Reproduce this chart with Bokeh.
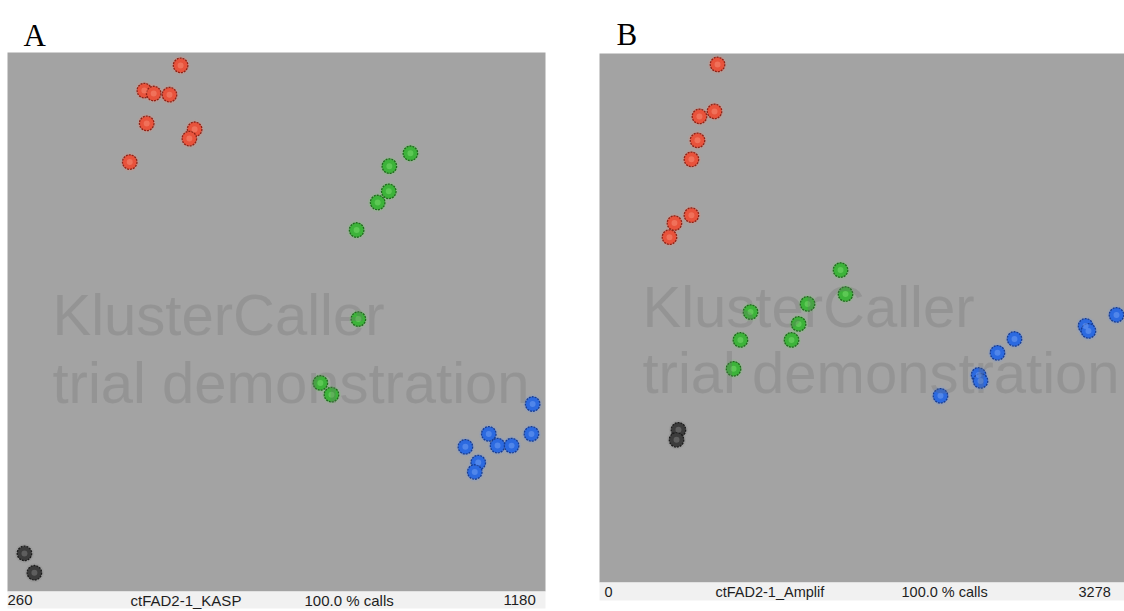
from bokeh.plotting import figure
from bokeh.models import ColumnDataSource, Label, Range1d, BoxAnnotation
from bokeh.layouts import row
from bokeh.embed import file_html
from bokeh.resources import INLINE

# ---------------- Panel A : ctFAD2-1_KASP (x axis 260 - 1180) ----------------
a_x_range = [260, 1180]
a_y_range = [260, 1180]
a_red_x = [556, 494, 510, 537, 498, 580, 571, 469]
a_red_y = [1158, 1115, 1110, 1108, 1059, 1049, 1033, 993]
a_green_x = [949, 913, 912, 893, 857, 860, 795, 814]
a_green_y = [1008, 986, 943, 924, 877, 725, 616, 596]
a_blue_x = [1158, 1156, 1083, 1098, 1122, 1043, 1065, 1059]
a_blue_y = [580, 529, 529, 509, 509, 507, 480, 464]
a_black_x = [289, 306]
a_black_y = [325, 292]
a_footer = ["260", "ctFAD2-1_KASP", "100.0 % calls", "1180"]

# ---------------- Panel B : ctFAD2-1_Amplif (x axis 0 - 3278) ----------------
b_x_range = [0, 3278]
b_y_range = [0, 3278]
b_red_x = [737, 718, 624, 612, 574, 574, 468, 437]
b_red_y = [3210, 2919, 2888, 2740, 2622, 2276, 2227, 2140]
b_green_x = [1505, 1536, 1299, 1243, 943, 1199, 880, 837]
b_green_y = [1936, 1787, 1726, 1602, 1676, 1503, 1503, 1324]
b_blue_x = [2129, 2367, 2379, 2485, 2591, 3035, 3053, 3228]
b_blue_y = [1157, 1286, 1249, 1423, 1509, 1590, 1559, 1658]
b_black_x = [493, 481]
b_black_y = [946, 884]
b_footer = ["0", "ctFAD2-1_Amplif", "100.0 % calls", "3278"]

watermark = ["KlusterCaller", "trial demonstration"]

BG = "#a3a3a3"
STRIP = "#f1f1f1"
STYLES = {
    "red":   dict(fill="#e8533c", line="#8e2216", hi="#f58a72"),
    "green": dict(fill="#3db33a", line="#1f6a1c", hi="#76d86a"),
    "blue":  dict(fill="#2c6ae0", line="#163c93", hi="#6f9cf2"),
    "black": dict(fill="#3c3c3c", line="#1c1c1c", hi="#7a7a7a"),
}

H = 610  # figure height (px)


def add_points(p, xs, ys, style):
    s = STYLES[style]
    src = ColumnDataSource(dict(x=xs, y=ys))
    p.scatter("x", "y", source=src, size=19, fill_color=s["hi"], fill_alpha=0.18,
              line_color=None)
    p.scatter("x", "y", source=src, size=14.5, fill_color=s["fill"],
              line_color=s["line"], line_width=1.3, line_dash="2 1")
    p.scatter("x", "y", source=src, size=6, fill_color=s["hi"], fill_alpha=0.55,
              line_color=None)


def make_panel(letter, xr, yr, groups, footer, width, box, strip_bottom,
               footer_x, footer_size, wm_x, wm_base, letter_x, letter_base):
    """box = (left, top, right, bottom) of the plotting area in figure pixels (y from top)."""
    bl, bt, br, bb = box
    sx = (xr[1] - xr[0]) / (br - bl)
    sy = (yr[1] - yr[0]) / (bb - bt)
    x_range = Range1d(xr[0] - bl * sx, xr[1] + (width - br) * sx)
    y_range = Range1d(yr[0] - (H - bb) * sy, yr[1] + bt * sy)
    p = figure(width=width, height=H, output_backend="svg", toolbar_location=None,
               x_range=x_range, y_range=y_range,
               x_axis_location=None, y_axis_location=None,
               min_border_left=0, min_border_right=0,
               min_border_top=0, min_border_bottom=0)
    p.grid.visible = False
    p.outline_line_color = None
    p.background_fill_color = "white"
    p.border_fill_color = "white"
    # plotting area (grey) spans the data range
    p.add_layout(BoxAnnotation(left=xr[0], right=xr[1], bottom=yr[0], top=yr[1],
                               fill_color=BG, fill_alpha=1.0, line_color=None,
                               level="underlay"))
    # footer strip
    p.add_layout(BoxAnnotation(left=xr[0], right=xr[1],
                               top=H - bb, bottom=H - strip_bottom,
                               top_units="screen", bottom_units="screen",
                               fill_color=STRIP, fill_alpha=1.0, line_color=None,
                               level="underlay"))
    for (xs, ys, style) in groups:
        add_points(p, xs, ys, style)
    # watermark
    for txt, base in zip(watermark, wm_base):
        p.add_layout(Label(x=wm_x, y=H - base, x_units="screen", y_units="screen", text=txt,
                           text_font="Liberation Sans", text_font_size="58px",
                           text_color="#6e6e6e", text_alpha=0.26,
                           text_baseline="alphabetic"))
    # footer strip texts
    fy = H - (bb + strip_bottom) / 2
    for txt, fx in zip(footer, footer_x):
        p.add_layout(Label(x=fx, y=fy, x_units="screen", y_units="screen", text=txt,
                           text_font="Liberation Sans", text_font_size=footer_size,
                           text_color="#1e1e1e", text_baseline="middle",
                           text_align="left"))
    # panel letter
    p.add_layout(Label(x=letter_x, y=H - letter_base, x_units="screen", y_units="screen",
                       text=letter, text_font="Liberation Serif", text_font_size="31px",
                       text_color="black", text_baseline="alphabetic"))
    return p


pA = make_panel(
    "A", a_x_range, a_y_range,
    [(a_red_x, a_red_y, "red"), (a_green_x, a_green_y, "green"),
     (a_blue_x, a_blue_y, "blue"), (a_black_x, a_black_y, "black")],
    a_footer, width=560, box=(7, 52, 545, 591), strip_bottom=608,
    footer_x=[7, 130, 304, 503], footer_size="15px",
    wm_x=52, wm_base=[314, 382], letter_x=23, letter_base=35)

pB = make_panel(
    "B", b_x_range, b_y_range,
    [(b_red_x, b_red_y, "red"), (b_green_x, b_green_y, "green"),
     (b_blue_x, b_blue_y, "blue"), (b_black_x, b_black_y, "black")],
    b_footer, width=564, box=(39, 53, 564, 582), strip_bottom=600,
    footer_x=[44, 155, 341, 518], footer_size="14.5px",
    wm_x=82, wm_base=[306, 372], letter_x=56, letter_base=34)

layout = row(pA, pB, spacing=0)
open("out.html", "w").write(file_html(layout, INLINE))
